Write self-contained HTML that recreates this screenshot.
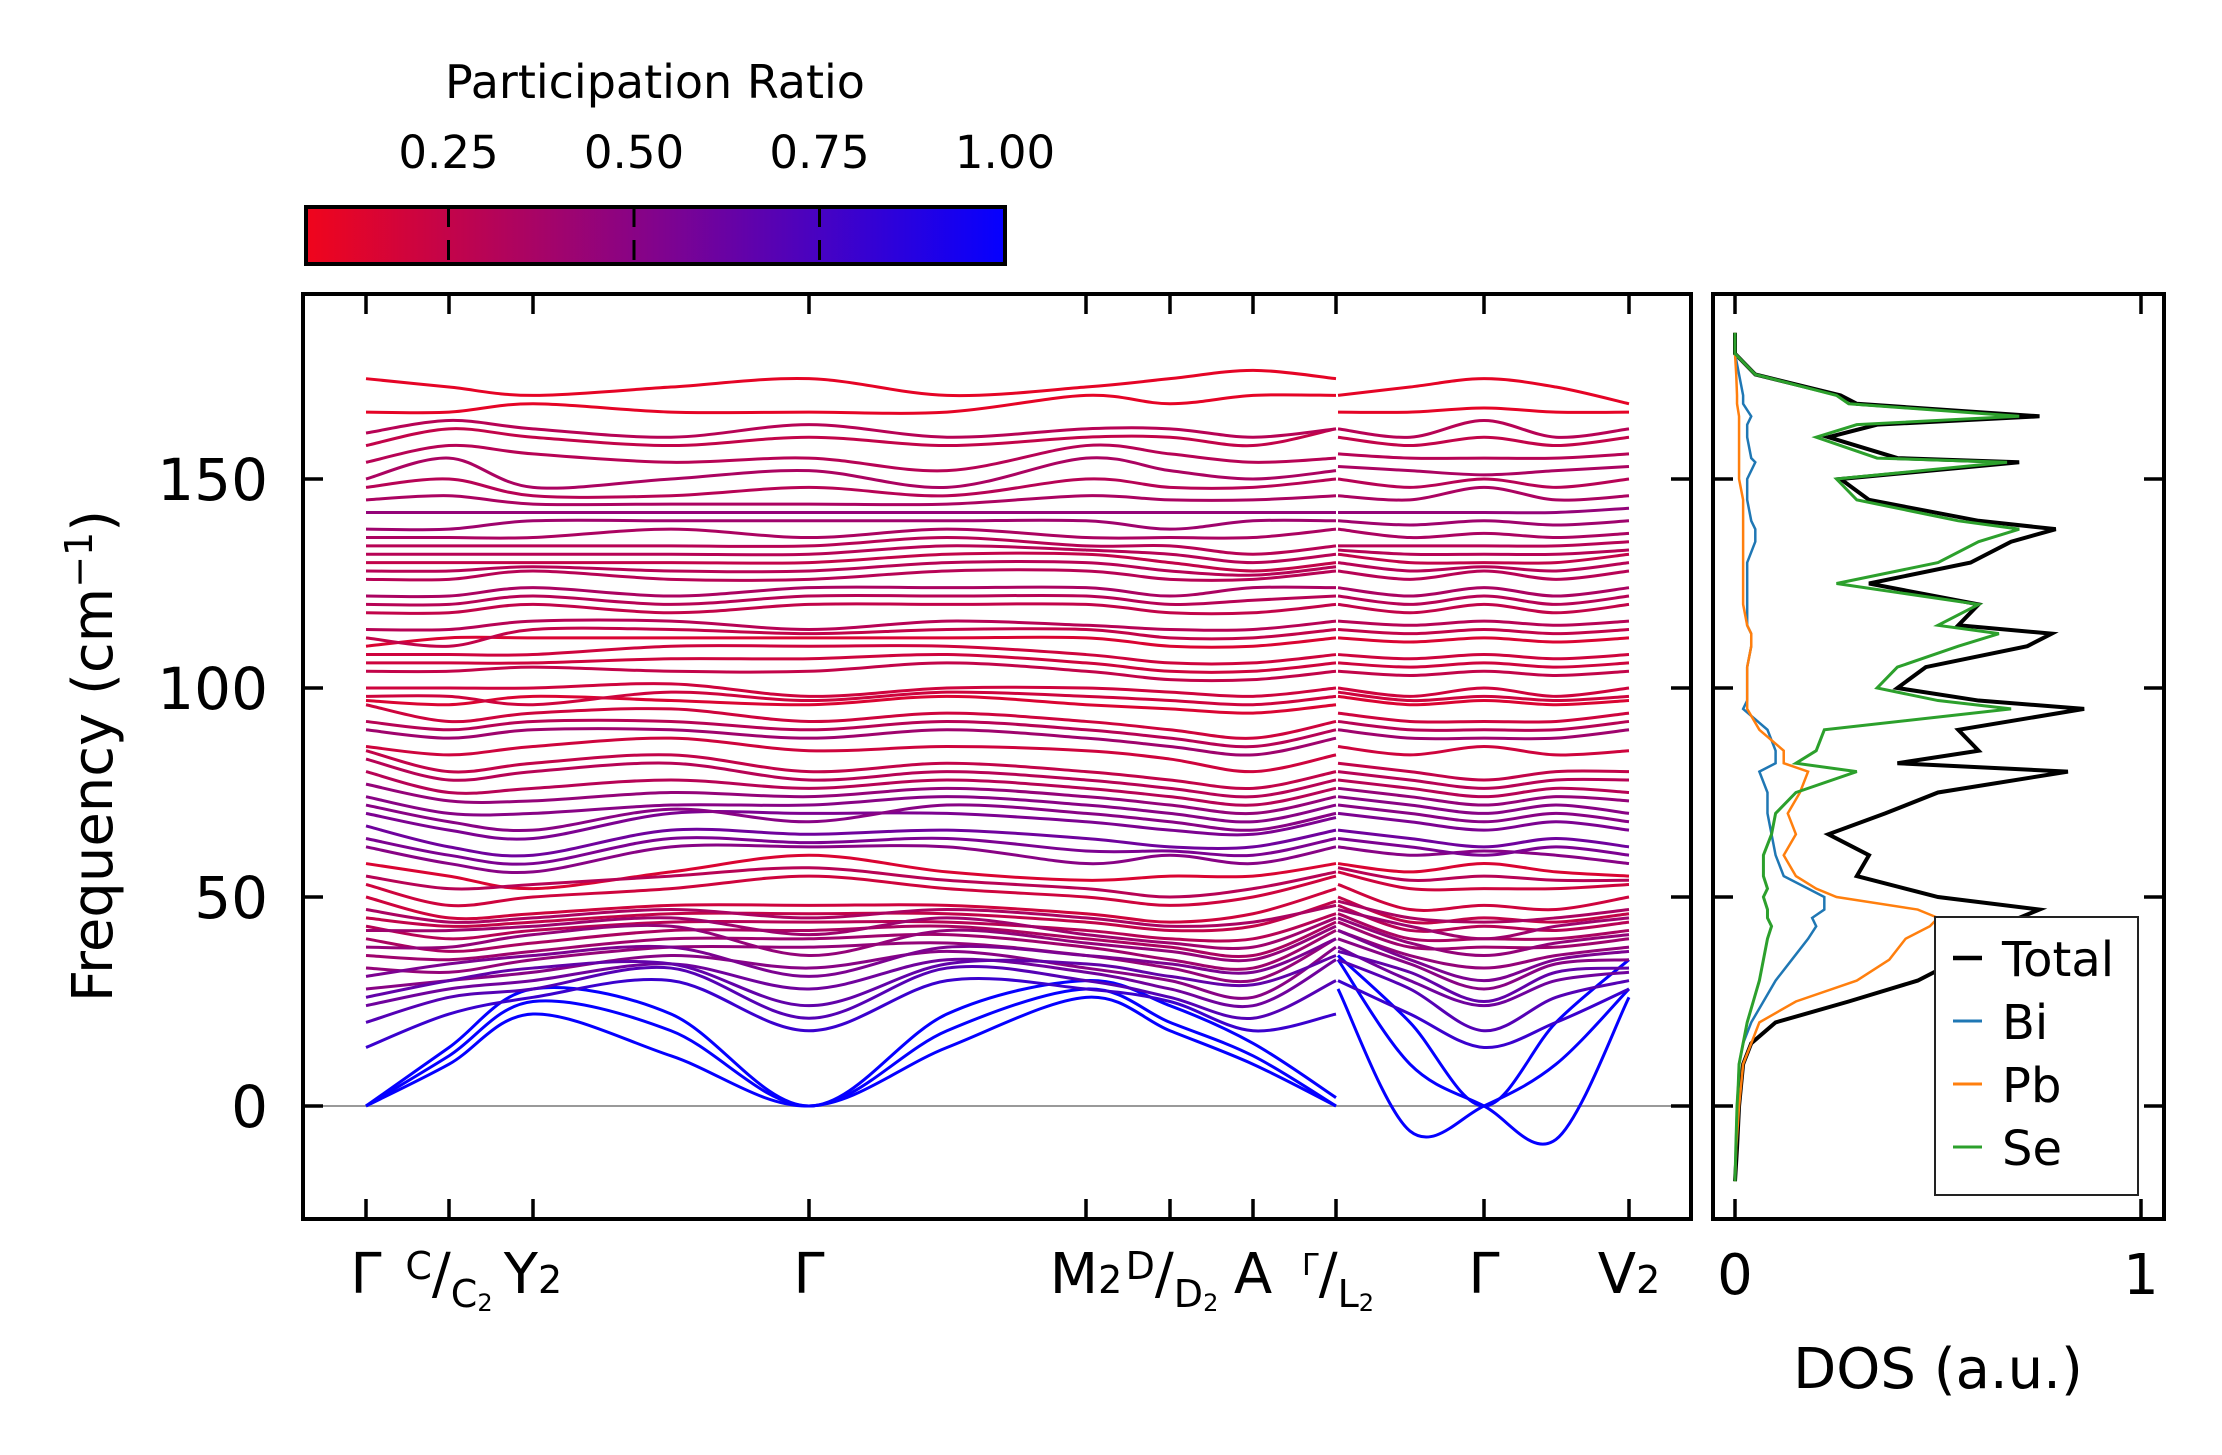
<!DOCTYPE html>
<html><head><meta charset="utf-8"><style>
html,body{margin:0;padding:0;background:#fff;}
svg{display:block;font-family:"DejaVu Sans","Liberation Sans",sans-serif;}
</style></head><body>
<svg id="fig" width="2222" height="1455" viewBox="0 0 2222 1455" xmlns="http://www.w3.org/2000/svg">
<defs>
<linearGradient id="cb" x1="0" x2="1" y1="0" y2="0">
<stop offset="0" stop-color="rgb(240,5,28)"/><stop offset="0.5" stop-color="rgb(130,3,140)"/><stop offset="1" stop-color="rgb(5,0,255)"/>
</linearGradient>
<clipPath id="mainclip"><rect x="303" y="294" width="1388" height="925"/></clipPath>
<clipPath id="dosclip"><rect x="1713" y="294" width="451" height="925"/></clipPath>
</defs>
<g>
<text x="655" y="98" font-size="46" text-anchor="middle">Participation Ratio</text>
<rect x="306" y="207" width="699" height="57" fill="url(#cb)" stroke="#000" stroke-width="4"/>
<g id="cbticks"></g>
</g>
<g id="main">
<line x1="303" x2="1691" y1="1106" y2="1106" stroke="#999" stroke-width="2"/>
<g id="bands" clip-path="url(#mainclip)"></g>
<rect x="303" y="294" width="1388" height="925" fill="none" stroke="#000" stroke-width="4"/>
<g id="mainticks"></g>
<text transform="translate(112,756) rotate(-90)" font-size="56" text-anchor="middle">Frequency (cm<tspan dy="-20" font-size="38">−1</tspan><tspan dy="20">)</tspan></text>
<g font-size="56" text-anchor="middle">
<text x="366" y="1293">Γ</text>
<text x="449" y="1293"><tspan font-size="38" dy="-14">C</tspan><tspan dy="14">/</tspan><tspan font-size="38" dy="14">C</tspan><tspan font-size="24" dy="4">2</tspan></text>
<text x="533" y="1293">Y<tspan font-size="38" dy="0">2</tspan></text>
<text x="809" y="1293">Γ</text>
<text x="1086" y="1293">M<tspan font-size="38">2</tspan></text>
<text x="1172" y="1293"><tspan font-size="38" dy="-14">D</tspan><tspan dy="14">/</tspan><tspan font-size="38" dy="14">D</tspan><tspan font-size="24" dy="4">2</tspan></text>
<text x="1253" y="1293">A</text>
<text x="1338" y="1293"><tspan font-size="30" dy="-18">Γ</tspan><tspan dy="18">/</tspan><tspan font-size="38" dy="14">L</tspan><tspan font-size="24" dy="4">2</tspan></text>
<text x="1484" y="1293">Γ</text>
<text x="1629" y="1293">V<tspan font-size="38">2</tspan></text>
</g>
</g>
<g id="dos">
<g id="doslines" clip-path="url(#dosclip)"></g>
<rect x="1713" y="294" width="451" height="925" fill="none" stroke="#000" stroke-width="4"/>
<g id="dosticks"></g>
<text x="1735" y="1294" font-size="56" text-anchor="middle">0</text>
<text x="2141" y="1294" font-size="56" text-anchor="middle">1</text>
<text x="1938" y="1388" font-size="56" text-anchor="middle">DOS (a.u.)</text>
<g>
<rect x="1935" y="917" width="203" height="278" fill="#fff" stroke="#222" stroke-width="2"/>
<g id="legend"></g>
</g>
</g>
</svg>
<script>
// ---- band structure data ----
const leftX = [366,449,533,671,809,947,1086,1170,1253,1336];
const rightX = [1338,1410,1484,1556,1629];
const bandLeft = [
[0,10,22,12,0,14,26,18,10,0],[0,12,25,18,0,18,28,20,12,0],[0,14,28,22,0,22,30,24,15,2],
[14,22,26,30,18,30,28,25,18,22],[20,26,28,33,21,33,30,26,21,30],[24,28,30,34,28,35,32,28,24,35],
[28,30,32,36,33,37,33,30,26,38],[33,32,35,38,38,39,36,33,30,40],[36,35,37,40,40,41,38,35,33,42],
[40,37,39,42,42,43,40,38,36,44],[43,40,42,44,44,44,42,40,40,46],[45,43,44,46,46,46,44,42,43,49],
[50,45,46,48,48,48,46,44,46,52],[53,48,50,52,55,52,50,48,50,55],[58,55,52,56,60,56,54,55,55,58],
[62,58,56,62,62,62,58,60,58,62],[67,62,60,66,65,66,64,62,62,66],[70,66,64,70,70,70,68,66,65,69],
[74,70,70,72,72,74,72,70,68,72],[80,75,76,78,76,78,76,74,72,76],[85,80,82,84,80,82,80,78,76,80],
[86,84,86,88,85,86,85,83,80,84],[90,88,90,90,88,90,88,86,84,88],[96,92,94,95,92,94,92,90,88,92],
[97,96,98,97,96,98,96,95,94,96],[100,100,100,101,98,100,100,99,98,100],[104,104,105,104,104,106,104,102,102,104],
[108,108,108,110,110,110,108,106,106,108],[110,112,112,112,112,112,112,110,110,112],[114,114,116,116,114,116,115,114,114,116],
[118,118,120,118,120,120,120,118,118,120],[122,122,124,122,124,124,124,122,124,124],[126,126,128,126,126,128,128,126,126,128],
[130,130,130,130,130,132,132,130,128,130],[134,134,134,134,134,136,134,134,132,134],[136,136,136,138,136,138,136,136,136,138],
[138,138,140,140,140,140,140,138,140,140],[142,142,142,142,142,142,142,142,142,142],[145,146,144,144,144,144,146,145,145,146],
[148,150,146,146,148,146,150,148,148,150],[150,155,148,150,152,148,155,152,150,152],[154,158,156,154,155,152,158,156,154,155],
[158,162,160,158,160,158,160,160,158,162],[161,164,162,160,163,160,162,162,160,162],[166,166,168,166,166,166,170,168,170,170],
[174,172,170,172,174,170,172,174,176,174],
[26,30,33,34,24,34,34,31,29,36],[31,34,36,38,31,38,36,34,32,40],[38,38,41,43,36,42,39,37,35,43],
[42,42,43,45,41,45,41,39,38,45],[47,44,45,47,45,47,45,43,44,48],[55,52,53,55,57,54,52,50,52,56],
[64,60,58,64,63,64,61,61,60,64],[72,68,66,71,68,72,70,68,66,70],[77,73,73,75,74,76,74,72,70,74],
[83,78,80,82,78,80,78,76,74,78],[92,90,92,92,90,92,90,88,86,90],[98,98,96,99,97,99,98,97,96,98],
[106,106,106,107,107,108,106,104,104,106],[112,110,114,114,113,114,114,112,112,114],[120,120,122,120,122,122,122,120,121,122],
[128,128,129,128,128,130,130,128,127,129],[132,132,132,132,132,134,133,132,130,132]
];
const bandRight = [
[35,10,0,-8,26],[28,-6,0,10,28],[36,20,0,20,35],
[30,22,14,20,28],[35,28,18,26,30],[38,30,24,30,32],
[40,34,28,34,35],[42,36,33,36,38],[44,38,38,38,40],
[46,40,40,40,42],[48,42,43,42,44],[50,44,45,44,46],
[53,47,48,47,50],[56,52,52,52,53],[58,56,58,56,55],
[62,60,61,60,58],[66,64,62,64,62],[70,68,66,68,66],
[74,72,70,72,70],[78,76,74,76,75],[82,80,78,80,80],
[86,84,86,84,85],[90,88,88,88,90],[94,92,92,92,94],
[98,96,97,96,97],[100,98,100,98,100],[104,103,104,103,104],
[108,107,108,107,108],[112,111,112,111,112],[116,115,116,115,116],
[120,118,120,118,120],[124,122,124,122,124],[128,126,128,126,128],
[132,130,130,130,132],[134,134,134,134,135],[138,136,137,136,137],
[140,139,140,139,140],[142,142,142,142,143],[146,145,148,145,146],
[150,148,150,148,150],[153,152,151,152,153],[156,155,155,155,156],
[160,158,160,158,160],[162,160,164,160,162],[166,166,167,166,166],
[170,172,174,172,168],
[37,32,25,32,33],[42,35,30,35,37],[45,39,36,39,41],
[47,43,40,43,45],[49,45,44,45,47],[57,54,55,54,54],
[64,62,60,62,60],[72,70,68,70,68],[76,74,72,74,73],
[80,78,76,78,78],[92,90,90,90,92],[99,97,98,97,98],
[106,105,106,105,106],[114,113,114,113,114],[122,120,122,120,122],
[130,128,129,128,130],[133,132,132,132,133]
];
const bandPR = [1,1,1,.8,.7,.6,.5,.45,.4,.35,.3,.25,.2,.2,.15,.5,.6,.55,.5,.3,.25,.2,.4,.2,.15,.2,.25,.2,.15,.3,.25,.35,.3,.25,.3,.35,.4,.45,.35,.3,.35,.3,.25,.3,.1,.1,
.65,.55,.45,.4,.35,.3,.55,.5,.45,.3,.3,.2,.2,.25,.3,.3,.3];
// ---- DOS data ----
const dosFreq = [-18,-10,0,5,10,15,20,25,30,35,40,43,45,47,50,52,55,60,65,70,75,80,82,85,90,95,97,100,105,110,113,115,120,125,130,135,138,140,145,150,154,155,160,163,165,168,170,175,180,185];
const dosTotal = [0,0.005,0.01,0.015,0.02,0.04,0.1,0.28,0.45,0.55,0.75,0.97,0.7,0.75,0.5,0.42,0.3,0.33,0.23,0.37,0.5,0.82,0.4,0.6,0.55,0.86,0.6,0.4,0.47,0.72,0.78,0.55,0.6,0.33,0.58,0.68,0.79,0.6,0.33,0.26,0.7,0.4,0.23,0.35,0.75,0.3,0.26,0.05,0,0];
const dosBi = [0,0.002,0.005,0.008,0.01,0.02,0.04,0.07,0.1,0.14,0.18,0.2,0.19,0.22,0.22,0.18,0.12,0.1,0.09,0.08,0.08,0.06,0.1,0.1,0.08,0.02,0.03,0.03,0.03,0.04,0.04,0.03,0.03,0.03,0.03,0.05,0.05,0.04,0.03,0.03,0.05,0.04,0.03,0.03,0.04,0.02,0.02,0.01,0,0];
const dosPb = [0,0.003,0.01,0.015,0.02,0.04,0.06,0.15,0.3,0.38,0.42,0.48,0.5,0.45,0.25,0.2,0.15,0.12,0.15,0.13,0.16,0.18,0.12,0.12,0.06,0.03,0.03,0.03,0.03,0.04,0.04,0.03,0.02,0.02,0.02,0.02,0.02,0.02,0.02,0.01,0.01,0.01,0.01,0.01,0.01,0.005,0.005,0.003,0,0];
const dosSe = [0,0.002,0.005,0.008,0.01,0.02,0.03,0.045,0.06,0.07,0.08,0.09,0.08,0.08,0.07,0.08,0.07,0.07,0.09,0.1,0.15,0.3,0.15,0.2,0.22,0.68,0.5,0.35,0.4,0.55,0.65,0.5,0.6,0.25,0.5,0.6,0.7,0.55,0.3,0.25,0.67,0.35,0.2,0.3,0.7,0.28,0.25,0.05,0,0];
const yTicks = [0,50,100,150];
const xTickPos = [366,449,533,809,1086,1170,1253,1336,1484,1629];
const cbTicks = [0.25,0.5,0.75,1.0];
const cbLabels = ["0.25","0.50","0.75","1.00"];

const NS = "http://www.w3.org/2000/svg";
const yScale = f => 1106 - f * 4.18;
const dosX = d => 1735 + 406 * d;
const cbX = v => 1005 - (1 - v) * 742;
function mk(tag, attrs, parent){const e=document.createElementNS(NS,tag);for(const k in attrs)e.setAttribute(k,attrs[k]);parent.appendChild(e);return e;}
function prColor(p){
  const t=Math.max(0,Math.min(1,(p-0.057)/(1-0.057)));
  let r,g,b;
  if(t<0.5){const u=t/0.5;r=240+(130-240)*u;g=5+(3-5)*u;b=28+(140-28)*u;}
  else{const u=(t-0.5)/0.5;r=130+(5-130)*u;g=3-3*u;b=140+(255-140)*u;}
  return `rgb(${r|0},${g|0},${b|0})`;
}
function crPath(xs, ys){
  const pts=xs.map((x,i)=>[x,yScale(ys[i])]);
  let d=`M${pts[0][0]},${pts[0][1]}`;
  for(let i=0;i<pts.length-1;i++){
    const p0=pts[Math.max(0,i-1)],p1=pts[i],p2=pts[i+1],p3=pts[Math.min(pts.length-1,i+2)];
    const c1=[p1[0]+(p2[0]-p0[0])/6,p1[1]+(p2[1]-p0[1])/6];
    const c2=[p2[0]-(p3[0]-p1[0])/6,p2[1]-(p3[1]-p1[1])/6];
    d+=` C${c1[0]},${c1[1]} ${c2[0]},${c2[1]} ${p2[0]},${p2[1]}`;
  }
  return d;
}
const bandsG=document.getElementById('bands');
for(let i=0;i<bandLeft.length;i++){
  const col=prColor(bandPR[i]);
  const a=mk('path',{d:crPath(leftX,bandLeft[i]),fill:'none',stroke:col,'stroke-width':3},bandsG);
  
  
  const b=mk('path',{d:crPath(rightX,bandRight[i]),fill:'none',stroke:col,'stroke-width':3},bandsG);
  
  
}
const mt=document.getElementById('mainticks');
yTicks.forEach(v=>{
  const y=yScale(v);
  mk('line',{x1:303,x2:323,y1:y,y2:y,stroke:'#000','stroke-width':3.5},mt);
  mk('line',{x1:1671,x2:1691,y1:y,y2:y,stroke:'#000','stroke-width':3.5},mt);
  const t=mk('text',{x:268,y:y+21,'font-size':58,'text-anchor':'end'},mt);
  t.textContent=v;
  
  
});
xTickPos.forEach(x=>{
  mk('line',{x1:x,x2:x,y1:1199,y2:1219,stroke:'#000','stroke-width':3.5},mt);
  mk('line',{x1:x,x2:x,y1:294,y2:314,stroke:'#000','stroke-width':3.5},mt);
});
const dt=document.getElementById('dosticks');
yTicks.forEach(v=>{
  const y=yScale(v);
  mk('line',{x1:1713,x2:1733,y1:y,y2:y,stroke:'#000','stroke-width':3.5},dt);
  mk('line',{x1:2144,x2:2164,y1:y,y2:y,stroke:'#000','stroke-width':3.5},dt);
});
[0,1].forEach(v=>{
  const x=dosX(v);
  mk('line',{x1:x,x2:x,y1:1199,y2:1219,stroke:'#000','stroke-width':3.5},dt);
  mk('line',{x1:x,x2:x,y1:294,y2:314,stroke:'#000','stroke-width':3.5},dt);
});
const dl=document.getElementById('doslines');
const series=[['total',dosTotal,'#000',4],['bi',dosBi,'#1f77b4',2.5],['pb',dosPb,'#ff7f0e',2.5],['se',dosSe,'#2ca02c',3]];
series.forEach(s=>{
  const pts=dosFreq.map((f,i)=>`${dosX(s[1][i])},${yScale(f)}`).join(' ');
  const p=mk('polyline',{points:pts,fill:'none',stroke:s[2],'stroke-width':s[3]},dl);
  
  
});
const lg=document.getElementById('legend');
const legNames=['Total','Bi','Pb','Se'];
series.forEach((s,i)=>{
  const y=958+i*63;
  mk('line',{x1:1953,x2:1982,y1:y,y2:y,stroke:s[2],'stroke-width':s[0]==='total'?4.5:3},lg);
  const t=mk('text',{x:2002,y:y+18,'font-size':48},lg);
  t.textContent=legNames[i];
  
  
});
const cg=document.getElementById('cbticks');
cbTicks.forEach((v,i)=>{
  const x=cbX(v);
  if(v<1) mk('line',{x1:x,x2:x,y1:207,y2:264,stroke:'#000','stroke-width':3,'stroke-dasharray':'20,13'},cg);
  const t=mk('text',{x:x,y:168,'font-size':45,'text-anchor':'middle'},cg);
  t.textContent=cbLabels[i];
  
  
});
</script>
</body></html>
